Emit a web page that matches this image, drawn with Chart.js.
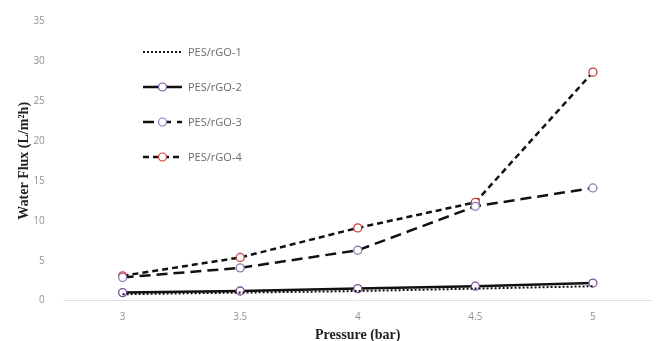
<!DOCTYPE html>
<html>
<head>
<meta charset="utf-8">
<script src="https://cdn.jsdelivr.net/npm/chart.js@4"></script>
<style>
  html, body { margin: 0; padding: 0; background: #fff; }
  #chart { display: block; }
</style>
</head>
<body>
<canvas id="chart" width="657" height="341"></canvas>
<script>
const pressures = ['3', '3.5', '4', '4.5', '5'];
const rgo1 = [0.8, 1.0, 1.2, 1.5, 1.8];
const rgo2 = [1.0, 1.2, 1.5, 1.8, 2.2];
const rgo3 = [2.9, 4.1, 6.3, 11.8, 14.1];
const rgo4 = [3.1, 5.4, 9.1, 12.3, 28.6];
const yTicksMax = 35;
const yStep = 5;

const TICK_COLOR = '#919191';
const TITLE_FONT = { family: 'Liberation Serif', size: 14, weight: 'bold' };

// legend drawn by hand so each entry can show dash pattern + marker
const legendPlugin = {
  id: 'sampleLegend',
  afterDraw(chart) {
    const ctx = chart.ctx;
    const x0 = 143, x1 = 182, y0 = 52, gap = 35;
    chart.data.datasets.forEach((ds, i) => {
      const y = y0 + i * gap;
      ctx.save();
      ctx.strokeStyle = ds.borderColor;
      ctx.lineWidth = ds.borderWidth;
      ctx.setLineDash(ds.borderDash || []);
      ctx.beginPath();
      ctx.moveTo(x0, y);
      ctx.lineTo(x1, y);
      ctx.stroke();
      if (ds.pointRadius > 0) {
        const cx = (x0 + x1) / 2;
        ctx.setLineDash([]);
        ctx.fillStyle = '#fff';
        ctx.beginPath();
        ctx.arc(cx, y, 4, 0, Math.PI * 2);
        ctx.fill();
        ctx.lineWidth = 1.2;
        ctx.strokeStyle = ds.pointBorderColor;
        ctx.stroke();
      }
      ctx.fillStyle = '#6b6b6b';
      ctx.font = '11px "Open Sans"';
      ctx.textBaseline = 'middle';
      ctx.fillText(ds.label, x1 + 6, y + 1);
      ctx.restore();
    });
  }
};

new Chart(document.getElementById('chart'), {
  type: 'line',
  data: {
    labels: pressures,
    datasets: [
      { label: 'PES/rGO-1', data: rgo1, borderColor: '#111', borderWidth: 2, borderDash: [2, 2], pointRadius: 0 },
      { label: 'PES/rGO-2', data: rgo2, borderColor: '#111', borderWidth: 2.5, pointRadius: 4,
        pointBackgroundColor: '#fff', pointBorderColor: '#7b4f9e', pointBorderWidth: 1.3 },
      { label: 'PES/rGO-3', data: rgo3, borderColor: '#111', borderWidth: 2.5, borderDash: [11, 6], pointRadius: 4,
        pointBackgroundColor: '#fff', pointBorderColor: '#8a7cb4', pointBorderWidth: 1.3 },
      { label: 'PES/rGO-4', data: rgo4, borderColor: '#111', borderWidth: 2.5, borderDash: [6, 4], pointRadius: 4,
        pointBackgroundColor: '#fff', pointBorderColor: '#d03a3a', pointBorderWidth: 1.3 }
    ]
  },
  options: {
    responsive: false,
    animation: false,
    layout: { padding: { top: 21, right: 5, left: 12, bottom: 0 } },
    plugins: { legend: { display: false }, tooltip: { enabled: false } },
    scales: {
      x: {
        offset: true,
        grid: { display: false },
        border: { display: true, color: '#e0e0e0' },
        ticks: { color: TICK_COLOR, font: { family: 'Open Sans', size: 10 }, padding: 3 },
        title: { display: true, text: 'Pressure (bar)', color: '#222', font: TITLE_FONT, padding: { top: 0, bottom: -2.4 } }
      },
      y: {
        min: 0,
        max: yTicksMax,
        grid: { display: false },
        border: { display: false },
        ticks: { stepSize: yStep, color: TICK_COLOR, font: { family: 'Open Sans', size: 10 }, padding: 11 },
        title: { display: true, text: 'Water Flux (L/m²h)', color: '#222', font: TITLE_FONT, padding: { top: 3.8, bottom: -10.2 } }
      }
    }
  },
  plugins: [legendPlugin]
});
</script>
</body>
</html>
